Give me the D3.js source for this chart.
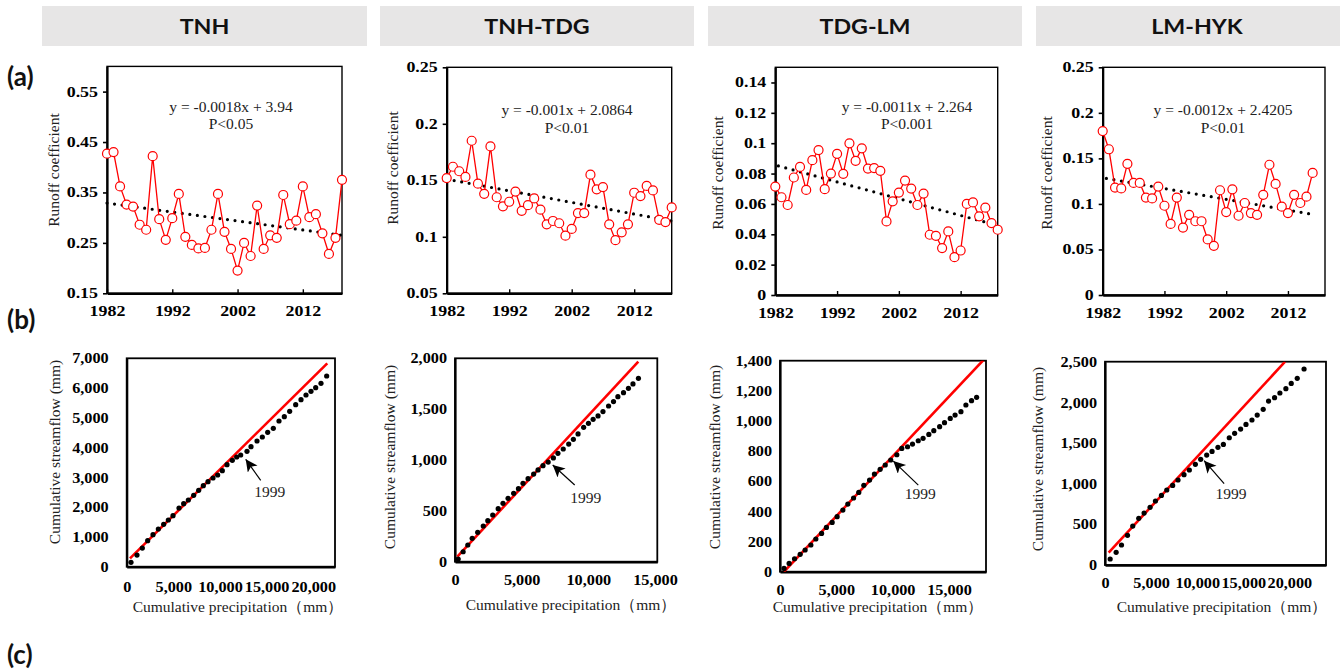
<!DOCTYPE html>
<html><head><meta charset="utf-8">
<script src="https://cdn.jsdelivr.net/npm/d3@7"></script>
<style>body{margin:0;background:#fff}svg{display:block}</style>
</head><body><svg id="c" width="1340" height="669"></svg>
<script>
// ---------------- DATA ----------------
const regions = ["TNH", "TNH-TDG", "TDG-LM", "LM-HYK"];
const panelTags = ["(a)", "(b)", "(c)"];
const firstYear = 1982;
const yearTicks = [1982, 1992, 2002, 2012];

const rcTNH = [0.427,0.430,0.362,0.326,0.322,0.286,0.276,0.422,0.297,0.256,0.299,0.347,0.262,0.246,0.239,0.240,0.276,0.347,0.272,0.238,0.195,0.250,0.224,0.324,0.238,0.265,0.260,0.345,0.287,0.294,0.362,0.301,0.307,0.269,0.228,0.260,0.375];
const rcTNH_TDG = [0.152,0.162,0.158,0.153,0.185,0.147,0.138,0.180,0.135,0.127,0.131,0.140,0.123,0.128,0.134,0.124,0.111,0.114,0.112,0.101,0.107,0.121,0.121,0.155,0.142,0.144,0.111,0.097,0.104,0.111,0.139,0.136,0.145,0.141,0.115,0.113,0.126];
const rcTDG_LM = [0.0714,0.0644,0.0593,0.0774,0.0844,0.0692,0.0888,0.0955,0.0697,0.0800,0.0930,0.0798,0.0999,0.0884,0.0966,0.0833,0.0836,0.0818,0.0485,0.0617,0.0675,0.0754,0.0701,0.0593,0.0668,0.0397,0.0390,0.0309,0.0419,0.0249,0.0293,0.0600,0.0610,0.0518,0.0575,0.0474,0.0430];
const rcLM_HYK = [0.180,0.160,0.118,0.117,0.144,0.123,0.123,0.107,0.106,0.119,0.098,0.078,0.107,0.074,0.088,0.081,0.081,0.061,0.054,0.115,0.091,0.116,0.087,0.101,0.090,0.088,0.110,0.143,0.122,0.097,0.090,0.110,0.101,0.108,0.134];

const trendTNH = [[1982, 0.329], [2018, 0.265]];
const trendTNH_TDG = [[1982, 0.151], [2018, 0.114]];
const trendTDG_LM = [[1982.5, 0.085], [2017.8, 0.046]];
const trendLM_HYK = [[1982.6, 0.128], [2015.6, 0.089]];

const eqLines = [
  ["y = -0.0018x + 3.94", "P<0.05"],
  ["y = -0.001x + 2.0864", "P<0.01"],
  ["y = -0.0011x + 2.264", "P<0.001"],
  ["y = -0.0012x + 2.4205", "P<0.01"]
];

const rcDomains = [[0.15, 0.6], [0.05, 0.25], [0, 0.15], [0, 0.25]];
const rcTicks = [
  [0.15, 0.25, 0.35, 0.45, 0.55],
  [0.05, 0.1, 0.15, 0.2, 0.25],
  [0, 0.02, 0.04, 0.06, 0.08, 0.1, 0.12, 0.14],
  [0, 0.05, 0.1, 0.15, 0.2, 0.25]
];

const cumP_TNH = [461,1104,1676,2248,2819,3391,3963,4463,4963,5607,6107,6607,7179,7715,8215,8715,9251,9752,10252,10752,11324,11789,12218,12896,13325,13968,14540,15112,15719,16327,16898,17470,18114,18685,19221,19757,20258,20829,21437];
const cumQ_TNH = [146,392,627,874,1075,1266,1422,1568,1714,1971,2117,2240,2397,2565,2722,2856,2979,3080,3226,3427,3573,3685,3752,3875,4032,4222,4357,4514,4648,4894,5040,5219,5443,5611,5768,5891,6014,6160,6406];
const cumP_TNH_TDG = [240,610,960,1290,1700,2120,2460,2830,3240,3600,3980,4400,4760,5100,5480,5900,6230,6600,6990,7380,7720,8120,8530,8880,9230,9650,10010,10360,10730,11100,11520,11890,12220,12640,13010,13350,13760];
const cumQ_TNH_TDG = [26,98,164,230,289,351,403,459,521,574,623,672,718,771,816,862,902,944,980,1020,1066,1108,1157,1203,1256,1321,1361,1400,1433,1476,1531,1574,1623,1662,1705,1748,1803];
const cumP_TDG_LM = [360,810,1290,1790,2230,2740,3180,3690,4120,4630,5070,5580,6020,6530,6990,7440,7950,8380,8890,9340,9830,10370,10810,11320,11760,12270,12700,13210,13650,14170,14600,15110,15540,16060,16500,17000,17450];
const cumQ_TDG_LM = [22,55,86,115,144,177,217,254,294,327,365,409,449,489,526,573,608,648,679,708,741,776,818,829,847,869,885,911,936,962,989,1017,1039,1062,1106,1135,1157];
const cumP_LM_HYK = [560,1210,1790,2440,3010,3660,4240,4890,5470,6120,6700,7340,7920,8570,9150,9800,10380,11030,11610,12250,12840,13480,14060,14710,15290,15940,16510,17160,17740,18390,18970,19620,20200,20850,21590];
const cumQ_LM_HYK = [74,156,246,365,479,574,639,709,787,856,922,979,1045,1111,1168,1238,1299,1352,1397,1447,1483,1565,1619,1672,1729,1783,1844,1914,2016,2057,2115,2168,2233,2295,2410];

const refTNH = [[354, 280], [21500, 6832]];
const refTNH_TDG = [[175, 49], [13750, 1967]];
const refTDG_LM = [[355, 0], [18050, 1404]];
const refLM_HYK = [[397, 152], [19530, 2500]];

const breakLabel = "1999";
const breakTip = [[12757, 3607], [7330, 951], [10056, 734], [10751, 1283]];

const cumXDomains = [[0, 22330], [0, 15175], [0, 18284], [0, 23970]];
const cumYDomains = [[0, 7000], [0, 2000], [0, 1400], [0, 2500]];
const cumXTicks = [[0,5000,10000,15000,20000],[0,5000,10000,15000],[0,5000,10000,15000],[0,5000,10000,15000,20000]];
const cumYTicks = [[0,1000,2000,3000,4000,5000,6000,7000],[0,500,1000,1500,2000],[0,200,400,600,800,1000,1200,1400],[0,500,1000,1500,2000,2500]];

const rcSeries = [rcTNH, rcTNH_TDG, rcTDG_LM, rcLM_HYK];
const trends = [trendTNH, trendTNH_TDG, trendTDG_LM, trendLM_HYK];
const cumP = [cumP_TNH, cumP_TNH_TDG, cumP_TDG_LM, cumP_LM_HYK];
const cumQ = [cumQ_TNH, cumQ_TNH_TDG, cumQ_TDG_LM, cumQ_LM_HYK];
const refs = [refTNH, refTNH_TDG, refTDG_LM, refLM_HYK];

// ---------------- LAYOUT ----------------
const headerBoxes = [[42, 367], [380, 694], [708, 1022], [1036, 1358]];
const topL = [
  {x0:107, x1:342, y0:66.4, y1:293.3, ytx:54, yty:170, eqx:231, eqy:111.5},
  {x0:446.7, x1:671.7, y0:67.3, y1:293.3, ytx:393, yty:168, eqx:567, eqy:115},
  {x0:775.3, x1:997.7, y0:67.3, y1:295, ytx:718, yty:173, eqx:907, eqy:111.5},
  {x0:1102.7, x1:1325, y0:67.3, y1:295, ytx:1047, yty:173, eqx:1223, eqy:115}
];
const botL = [
  {x0:126.7, x1:335, y0:358.3, y1:566.7, ypad:18, xpad:15, ytx:55, yty:452, xtx:238, xty:612, tail:[15,21], lab:[24,38]},
  {x0:455, x1:657.3, y0:358.3, y1:561.7, ypad:8, xpad:13, ytx:390, yty:457, xtx:571, xty:610, tail:[22,20], lab:[33,38]},
  {x0:780, x1:986, y0:360.7, y1:571.7, ypad:8, xpad:13, ytx:715, yty:457, xtx:878, xty:612, tail:[25,24], lab:[27,38]},
  {x0:1105, x1:1326, y0:361.7, y1:565, ypad:8, xpad:13, ytx:1038, yty:459, xtx:1222, xty:612, tail:[20,23], lab:[27,38]}
];

const SERIF = "'Liberation Serif','Times New Roman',serif";
const SANS = "Lato,'Open Sans',sans-serif";
const SX_TOP = 1.28, SX_BOT = 1.12;

const svg = d3.select("#c");
const defs = svg.append("defs");
defs.append("marker").attr("id","ah").attr("markerUnits","userSpaceOnUse")
  .attr("markerWidth",14).attr("markerHeight",14).attr("refX",12).attr("refY",6)
  .attr("orient","auto").append("path").attr("d","M0,0 L12,6 L0,12 L3,6 Z").attr("fill","#000");

function stretch(sel, sx) {
  sel.each(function() {
    const x = +(this.getAttribute("x") || 0);
    this.setAttribute("x", x / sx);
    this.setAttribute("transform", `scale(${sx},1)`);
  });
}

// headers
headerBoxes.forEach((b, i) => {
  svg.append("rect").attr("x", b[0]).attr("y", 6).attr("width", b[1] - b[0]).attr("height", 40).attr("fill", "#e7e6e6");
  svg.append("text").attr("transform", `translate(${(b[0]+b[1])/2},33.5) scale(1.08,1)`)
    .attr("text-anchor","middle").attr("font-family",SANS).attr("font-weight","bold")
    .attr("font-size",21.5).attr("fill","#111").text(regions[i]);
});
[[7,86],[7,329],[7,664]].forEach((p,i) => {
  svg.append("text").attr("x",p[0]).attr("y",p[1]).attr("font-family",SANS)
    .attr("font-weight","bold").attr("font-size",26).attr("fill","#111").text(panelTags[i]);
});

// ---------------- TOP PANELS ----------------
topL.forEach((L, i) => {
  const vals = rcSeries[i];
  const years = d3.range(firstYear, firstYear + vals.length);
  const x = d3.scaleLinear().domain([1982, 2018]).range([L.x0, L.x1]);
  const y = d3.scaleLinear().domain(rcDomains[i]).range([L.y1, L.y0]);
  const g = svg.append("g");
  g.append("rect").attr("x",L.x0).attr("y",L.y0).attr("width",L.x1-L.x0).attr("height",L.y1-L.y0)
    .attr("fill","none").attr("stroke","#000").attr("stroke-width",1.4);
  const ya = g.append("g").attr("transform",`translate(${L.x0},0)`)
    .call(d3.axisLeft(y).tickValues(rcTicks[i]).tickFormat(d => String(+d.toFixed(2)))
      .tickSizeInner(4).tickSizeOuter(0).tickPadding(5));
  ya.select(".domain").attr("stroke","#000").attr("stroke-width",2.2);
  ya.selectAll(".tick line").attr("stroke","#000").attr("stroke-width",1.6);
  ya.selectAll("text").attr("font-family",SERIF).attr("font-weight","bold").attr("font-size",14).attr("fill","#000");
  stretch(ya.selectAll("text"), SX_TOP);
  const xa = g.append("g").attr("transform",`translate(0,${L.y1})`)
    .call(d3.axisBottom(x).tickValues(yearTicks).tickFormat(d3.format("d"))
      .tickSizeInner(-4).tickSizeOuter(0).tickPadding(13));
  xa.select(".domain").attr("stroke","#000").attr("stroke-width",2.4);
  xa.selectAll(".tick line").attr("stroke","#000").attr("stroke-width",1.4);
  xa.selectAll("text").attr("font-family",SERIF).attr("font-weight","bold").attr("font-size",14).attr("fill","#000");
  stretch(xa.selectAll("text"), SX_TOP);

  // trend
  const tr = trends[i];
  g.append("path").attr("d", d3.line().x(d => x(d[0])).y(d => y(d[1]))(tr))
    .attr("fill","none").attr("stroke","#000").attr("stroke-width",3.2)
    .attr("stroke-linecap","round").attr("stroke-dasharray","0 7.6");
  // series
  g.append("path").attr("d", d3.line().x((d,j) => x(years[j])).y(d => y(d))(vals))
    .attr("fill","none").attr("stroke","#ff0000").attr("stroke-width",1.3);
  g.selectAll("circle.m").data(vals).join("circle").attr("class","m")
    .attr("cx",(d,j) => x(years[j])).attr("cy",d => y(d)).attr("r",4.5)
    .attr("fill","#fff").attr("stroke","#ff0000").attr("stroke-width",1.2);
  // equation
  eqLines[i].forEach((t, k) => {
    g.append("text").attr("x",L.eqx).attr("y",L.eqy + k*17.5).attr("text-anchor","middle")
      .attr("font-family",SERIF).attr("font-size",15.5).attr("fill","#222").text(t);
  });
  g.append("text").attr("transform",`translate(${L.ytx + 5},${L.yty}) rotate(-90)`)
    .attr("text-anchor","middle").attr("font-family",SERIF).attr("font-size",15.5).attr("fill","#222")
    .text("Runoff coefficient");
});

// ---------------- BOTTOM PANELS ----------------
botL.forEach((L, i) => {
  const x = d3.scaleLinear().domain(cumXDomains[i]).range([L.x0, L.x1]);
  const y = d3.scaleLinear().domain(cumYDomains[i]).range([L.y1, L.y0]);
  const g = svg.append("g");
  const cid = "clip" + i;
  defs.append("clipPath").attr("id",cid).append("rect")
    .attr("x",L.x0).attr("y",L.y0).attr("width",L.x1-L.x0).attr("height",L.y1-L.y0);
  g.append("rect").attr("x",L.x0).attr("y",L.y0).attr("width",L.x1-L.x0).attr("height",L.y1-L.y0)
    .attr("fill","none").attr("stroke","#000").attr("stroke-width",1.8);
  const ya = g.append("g").attr("transform",`translate(${L.x0},0)`)
    .call(d3.axisLeft(y).tickValues(cumYTicks[i]).tickFormat(d3.format(",")).tickSize(0).tickPadding(L.ypad));
  ya.select(".domain").attr("stroke","#000").attr("stroke-width",2.2);
  ya.selectAll("text").attr("font-family",SERIF).attr("font-weight","bold").attr("font-size",14.5).attr("fill","#000");
  stretch(ya.selectAll("text"), SX_BOT);
  const xa = g.append("g").attr("transform",`translate(0,${L.y1})`)
    .call(d3.axisBottom(x).tickValues(cumXTicks[i]).tickFormat(d3.format(",")).tickSize(0).tickPadding(L.xpad));
  xa.select(".domain").attr("stroke","#000").attr("stroke-width",2.6);
  xa.selectAll("text").attr("font-family",SERIF).attr("font-weight","bold").attr("font-size",14.5).attr("fill","#000");
  stretch(xa.selectAll("text"), SX_BOT);

  // reference line
  g.append("path").attr("clip-path",`url(#${cid})`)
    .attr("d", d3.line().x(d => x(d[0])).y(d => y(d[1]))(refs[i]))
    .attr("fill","none").attr("stroke","#ff0000").attr("stroke-width",2.6);
  // points
  g.selectAll("circle.p").data(cumP[i]).join("circle").attr("class","p")
    .attr("cx",d => x(d)).attr("cy",(d,j) => y(cumQ[i][j])).attr("r",2.6).attr("fill","#000");
  // arrow
  const tx = x(breakTip[i][0]), ty = y(breakTip[i][1]);
  g.append("line").attr("x1",tx + L.tail[0]).attr("y1",ty + L.tail[1]).attr("x2",tx).attr("y2",ty)
    .attr("stroke","#000").attr("stroke-width",1.2).attr("marker-end","url(#ah)");
  g.append("text").attr("x",tx + L.lab[0]).attr("y",ty + L.lab[1]).attr("text-anchor","middle")
    .attr("font-family",SERIF).attr("font-size",15.5).attr("fill","#222").text(breakLabel);
  // titles
  g.append("text").attr("transform",`translate(${L.ytx + 5},${L.yty}) rotate(-90)`)
    .attr("text-anchor","middle").attr("font-family",SERIF).attr("font-size",15.5).attr("fill","#222")
    .text("Cumulative streamflow (mm)");
  g.append("text").attr("x",L.xtx).attr("y",L.xty).attr("text-anchor","middle")
    .attr("font-family",SERIF).attr("font-size",15.5).attr("fill","#222")
    .text("Cumulative precipitation（mm）");
});
</script></body></html>
